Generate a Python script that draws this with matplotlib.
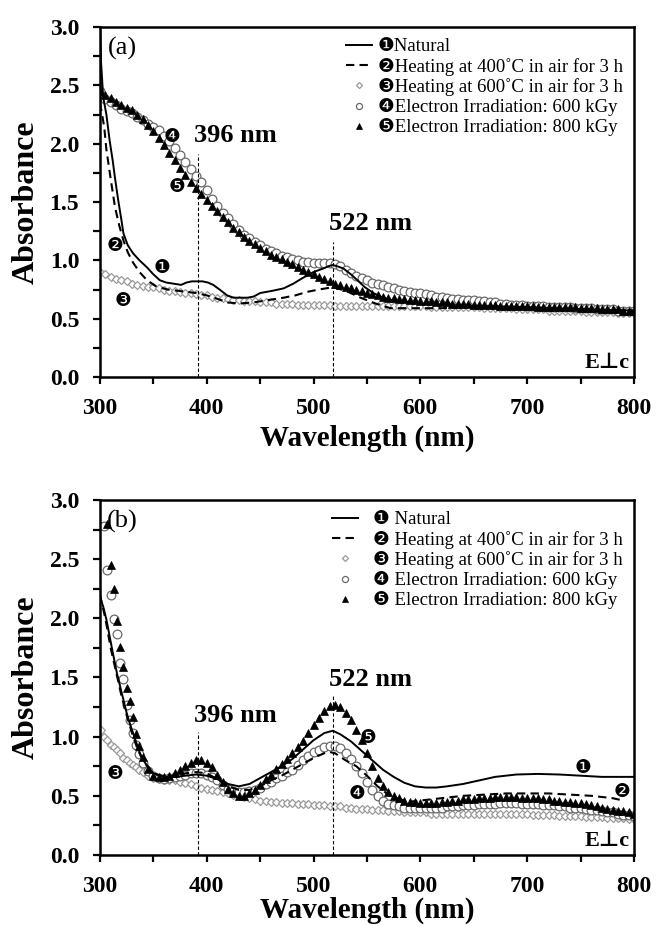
import matplotlib.pyplot as plt
from matplotlib.ticker import MultipleLocator

plt.rcParams['font.family'] = ['Liberation Serif', 'DejaVu Sans']

# ---------------- data ----------------
labels_a = ['❶Natural', '❷Heating at 400˚C in air for 3 h', '❸Heating at 600˚C in air for 3 h',
            '❹Electron Irradiation: 600 kGy', '❺Electron Irradiation: 800 kGy']
labels_b = ['❶ Natural', '❷ Heating at 400˚C in air for 3 h', '❸ Heating at 600˚C in air for 3 h',
            '❹ Electron Irradiation: 600 kGy', '❺ Electron Irradiation: 800 kGy']

# panel (a)
a1_x = [300, 301, 303, 306, 309, 312, 314, 317, 320, 322, 326, 331, 337, 344, 350, 356, 362, 369,
        376, 381, 386, 391, 396, 401, 406, 412, 419, 425, 431, 438, 444, 450, 456, 462, 472, 481,
        490, 500, 509, 514, 518, 522, 528, 535, 541, 548, 556, 565, 573, 581, 590, 600, 620, 650,
        700, 750, 800]
a1_y = [3.05, 2.70, 2.40, 2.25, 2.03, 1.85, 1.71, 1.52, 1.35, 1.23, 1.13, 1.06, 1.00, 0.94, 0.88,
        0.83, 0.81, 0.80, 0.79, 0.81, 0.82, 0.82, 0.82, 0.81, 0.79, 0.75, 0.70, 0.68, 0.68, 0.68,
        0.69, 0.72, 0.73, 0.74, 0.76, 0.80, 0.85, 0.90, 0.93, 0.95, 0.96, 0.95, 0.93, 0.88, 0.83,
        0.77, 0.72, 0.68, 0.66, 0.65, 0.64, 0.63, 0.62, 0.61, 0.60, 0.58, 0.57]

a2_x = [300, 302, 304, 306, 310, 314, 318, 322, 326, 331, 337, 344, 352, 363, 372, 381, 390, 400,
        410, 419, 430, 444, 458, 472, 483, 494, 505, 518, 530, 544, 558, 572, 590, 619, 647, 700,
        750, 800]
a2_y = [2.35, 2.25, 2.14, 1.95, 1.70, 1.46, 1.30, 1.17, 1.07, 0.98, 0.90, 0.83, 0.78, 0.75, 0.74,
        0.73, 0.72, 0.70, 0.67, 0.64, 0.63, 0.64, 0.66, 0.68, 0.70, 0.73, 0.75, 0.77, 0.74, 0.68,
        0.63, 0.59, 0.59, 0.59, 0.60, 0.59, 0.58, 0.57]

wl_a = list(range(300, 805, 5))
a3_y = [0.90, 0.88, 0.86, 0.84, 0.83, 0.82, 0.80, 0.79, 0.78, 0.77,   # 300
        0.77, 0.76, 0.75, 0.74, 0.74, 0.73, 0.72, 0.72, 0.71, 0.70,   # 350
        0.70, 0.69, 0.68, 0.68, 0.67, 0.66, 0.66, 0.65, 0.65, 0.65,   # 400
        0.64, 0.64, 0.64, 0.63, 0.63, 0.63, 0.63, 0.62, 0.62, 0.62,   # 450
        0.62, 0.62, 0.62, 0.62, 0.61, 0.61, 0.61, 0.61, 0.61, 0.61,   # 500
        0.61, 0.61, 0.61, 0.61, 0.61, 0.61, 0.61, 0.61, 0.61, 0.61,   # 550
        0.61, 0.61, 0.60, 0.60, 0.60, 0.60, 0.60, 0.60, 0.60, 0.60,   # 600
        0.60, 0.60, 0.59, 0.59, 0.59, 0.59, 0.59, 0.59, 0.58, 0.58,   # 650
        0.58, 0.58, 0.58, 0.58, 0.57, 0.57, 0.57, 0.57, 0.57, 0.57,   # 700
        0.57, 0.56, 0.56, 0.56, 0.56, 0.56, 0.56, 0.55, 0.55, 0.55,   # 750
        0.55]
a4_y = [2.45, 2.38, 2.36, 2.33, 2.30, 2.28, 2.26, 2.23, 2.20, 2.17,
        2.14, 2.12, 2.07, 2.02, 1.96, 1.90, 1.84, 1.78, 1.72, 1.67,
        1.60, 1.53, 1.47, 1.41, 1.36, 1.31, 1.26, 1.22, 1.19, 1.16,
        1.13, 1.10, 1.08, 1.06, 1.04, 1.03, 1.01, 1.00, 0.99, 0.99,
        0.98, 0.98, 0.98, 0.98, 0.97, 0.95, 0.92, 0.89, 0.87, 0.85,
        0.83, 0.81, 0.80, 0.79, 0.77, 0.76, 0.75, 0.74, 0.73, 0.72,
        0.72, 0.71, 0.70, 0.69, 0.69, 0.68, 0.67, 0.67, 0.66, 0.66,
        0.66, 0.65, 0.65, 0.64, 0.64, 0.63, 0.63, 0.62, 0.62, 0.62,
        0.61, 0.61, 0.61, 0.61, 0.60, 0.60, 0.60, 0.60, 0.60, 0.59,
        0.59, 0.59, 0.59, 0.58, 0.58, 0.58, 0.58, 0.57, 0.57, 0.57,
        0.57]
a5_y = [2.45, 2.42, 2.39, 2.36, 2.33, 2.31, 2.29, 2.25, 2.21, 2.16,
        2.11, 2.05, 1.99, 1.92, 1.86, 1.79, 1.73, 1.67, 1.62, 1.57,
        1.52, 1.47, 1.42, 1.37, 1.33, 1.28, 1.24, 1.20, 1.17, 1.14,
        1.11, 1.08, 1.05, 1.03, 1.01, 0.99, 0.97, 0.94, 0.92, 0.90,
        0.88, 0.86, 0.84, 0.82, 0.80, 0.79, 0.77, 0.76, 0.75, 0.74,
        0.72, 0.71, 0.70, 0.69, 0.68, 0.68, 0.67, 0.67, 0.66, 0.66,
        0.65, 0.65, 0.65, 0.64, 0.64, 0.64, 0.63, 0.63, 0.63, 0.63,
        0.62, 0.62, 0.62, 0.62, 0.62, 0.61, 0.61, 0.61, 0.61, 0.61,
        0.61, 0.61, 0.60, 0.60, 0.60, 0.60, 0.60, 0.60, 0.60, 0.60,
        0.59, 0.59, 0.59, 0.59, 0.58, 0.58, 0.58, 0.58, 0.57, 0.57,
        0.57]

# panel (b)
b1_x = [300, 303, 306, 309, 312, 316, 319, 322, 325, 328, 331, 334, 337, 340, 345, 350, 360, 370,
        380, 390, 400, 410, 420, 430, 440, 450, 460, 470, 480, 490, 500, 510, 518, 525, 535, 545,
        555, 565, 575, 585, 595, 605, 615, 625, 640, 655, 670, 690, 710, 730, 750, 770, 790, 800]
b1_y = [2.18, 2.10, 1.99, 1.85, 1.71, 1.53, 1.42, 1.31, 1.20, 1.11, 1.03, 0.95, 0.87, 0.81, 0.74,
        0.69, 0.66, 0.66, 0.67, 0.68, 0.67, 0.64, 0.60, 0.58, 0.60, 0.65, 0.70, 0.75, 0.81, 0.89,
        0.97, 1.03, 1.05, 1.02, 0.96, 0.88, 0.80, 0.72, 0.66, 0.61, 0.58, 0.57, 0.57, 0.58, 0.60,
        0.63, 0.66, 0.68, 0.685, 0.68, 0.67, 0.66, 0.66, 0.66]

b2_x = [300, 305, 310, 315, 320, 325, 330, 335, 340, 350, 360, 370, 380, 390, 400, 410, 420, 430,
        440, 450, 460, 470, 480, 490, 500, 510, 515, 520, 530, 540, 550, 560, 570, 580, 590, 600,
        620, 640, 660, 680, 700, 720, 740, 760, 780, 790]
b2_y = [2.20, 2.00, 1.75, 1.55, 1.35, 1.18, 1.03, 0.90, 0.80, 0.69, 0.66, 0.67, 0.69, 0.70, 0.69,
        0.64, 0.58, 0.55, 0.55, 0.58, 0.63, 0.67, 0.72, 0.77, 0.82, 0.86, 0.87, 0.86, 0.80, 0.75,
        0.67, 0.58, 0.51, 0.47, 0.45, 0.46, 0.48, 0.50, 0.51, 0.52, 0.52, 0.52, 0.51, 0.50, 0.48,
        0.46]

wl_b = [301, 304, 307, 310, 313, 316, 319, 322, 325, 328, 331, 334, 337, 340] + list(range(345, 805, 5))
b3_y = [1.06, 1.00, 0.97, 0.93, 0.91, 0.89, 0.86, 0.82, 0.80, 0.78, 0.76, 0.74, 0.72, 0.70,
        0.67, 0.65, 0.64, 0.63, 0.63, 0.63, 0.62, 0.61, 0.60, 0.58,   # 345
        0.57, 0.56, 0.55, 0.54, 0.53, 0.52, 0.51, 0.50, 0.49, 0.48,   # 395
        0.47, 0.46, 0.46, 0.45, 0.45, 0.44, 0.44, 0.44, 0.43, 0.43,   # 445
        0.43, 0.42, 0.42, 0.42, 0.41, 0.41, 0.41, 0.40, 0.40, 0.39,   # 495
        0.39, 0.39, 0.38, 0.38, 0.38, 0.37, 0.37, 0.37, 0.36, 0.36,   # 545
        0.36, 0.36, 0.36, 0.35, 0.35, 0.35, 0.35, 0.35, 0.35, 0.35,   # 595
        0.35, 0.35, 0.35, 0.35, 0.35, 0.35, 0.35, 0.35, 0.35, 0.35,   # 645
        0.35, 0.35, 0.34, 0.34, 0.34, 0.34, 0.34, 0.33, 0.33, 0.33,   # 695
        0.33, 0.33, 0.32, 0.32, 0.32, 0.32, 0.31, 0.31, 0.31, 0.31,   # 745
        0.30, 0.30]
b4_y = [3.10, 2.78, 2.41, 2.20, 1.99, 1.87, 1.62, 1.49, 1.27, 1.14, 1.03, 0.93, 0.85, 0.78,
        0.71, 0.67, 0.65, 0.64, 0.65, 0.66, 0.67, 0.68, 0.69, 0.69,
        0.69, 0.68, 0.66, 0.63, 0.59, 0.56, 0.54, 0.53, 0.53, 0.54,
        0.55, 0.57, 0.60, 0.62, 0.65, 0.67, 0.70, 0.72, 0.76, 0.80,
        0.84, 0.87, 0.89, 0.91, 0.92, 0.92, 0.90, 0.86, 0.81, 0.75,
        0.69, 0.62, 0.55, 0.50, 0.46, 0.43, 0.42, 0.41, 0.40, 0.40,
        0.40, 0.40, 0.40, 0.40, 0.40, 0.40, 0.41, 0.41, 0.41, 0.42,
        0.42, 0.42, 0.43, 0.43, 0.43, 0.43, 0.44, 0.44, 0.44, 0.44,
        0.43, 0.43, 0.43, 0.43, 0.42, 0.42, 0.42, 0.41, 0.41, 0.40,
        0.40, 0.40, 0.39, 0.38, 0.38, 0.37, 0.36, 0.36, 0.35, 0.34,
        0.34, 0.33]
b5_y = [3.40, 3.10, 2.80, 2.45, 2.25, 1.98, 1.76, 1.59, 1.41, 1.30, 1.17, 1.02, 0.92, 0.83,
        0.73, 0.67, 0.66, 0.66, 0.67, 0.69, 0.72, 0.75, 0.78, 0.80,
        0.80, 0.78, 0.74, 0.68, 0.62, 0.56, 0.52, 0.50, 0.50, 0.52,
        0.55, 0.59, 0.64, 0.68, 0.73, 0.77, 0.81, 0.86, 0.91, 0.96,
        1.03, 1.10, 1.16, 1.22, 1.26, 1.27, 1.25, 1.20, 1.14, 1.06,
        0.97, 0.86, 0.75, 0.65, 0.58, 0.53, 0.50, 0.48, 0.46, 0.45,
        0.45, 0.44, 0.44, 0.44, 0.44, 0.45, 0.45, 0.46, 0.46, 0.47,
        0.47, 0.47, 0.48, 0.48, 0.48, 0.49, 0.49, 0.49, 0.49, 0.49,
        0.48, 0.48, 0.48, 0.48, 0.47, 0.47, 0.46, 0.46, 0.45, 0.45,
        0.44, 0.44, 0.43, 0.42, 0.41, 0.40, 0.39, 0.38, 0.37, 0.37,
        0.36, 0.35]

peak_x = [392, 518]
peak_text = ['396 nm', '522 nm']
nums = ['❶', '❷', '❸', '❹', '❺']


def draw_panel(ax, s1, s2, wl, m3, m4, m5, labels, tag, peak_tops, peak_lbl_y, num_pos, num_gap):
    h3, = ax.plot(wl, m3, ls='none', marker='D', ms=4.4, mfc='white', mec='#9a9a9a', mew=0.9)
    h4, = ax.plot(wl, m4, ls='none', marker='o', ms=6.3, mfc='white', mec='#6a6a6a', mew=0.9)
    h5, = ax.plot(wl, m5, ls='none', marker='^', ms=5.6, mfc='black', mec='black', mew=0.5)
    h2, = ax.plot(s2[0], s2[1], color='black', lw=1.5, ls=(0, (4, 2.5)))
    h1, = ax.plot(s1[0], s1[1], color='black', lw=1.4)

    for px, top, ly, txt in zip(peak_x, peak_tops, peak_lbl_y, peak_text):
        ax.vlines(px, 0, top, colors='black', lw=0.8, linestyles=(0, (3, 2)))
        ax.text(px - 4, ly, txt, fontsize=19, fontweight='bold', ha='left', va='center')

    for n, (x, y) in zip(nums, num_pos):
        ax.text(x, y, n, fontsize=13.5, ha='center', va='center', family='DejaVu Sans')

    ax.text(321, 2.82, tag, fontsize=19, ha='center', va='center')
    ax.text(796, 0.12, 'E⊥c', fontsize=16, fontweight='bold', ha='right', va='center')

    ax.legend([h1, h2, h3, h4, h5], labels, loc='upper right', bbox_to_anchor=(1.0, 1.0),
              frameon=False, handlelength=1.4, handletextpad=num_gap, labelspacing=0.12,
              borderaxespad=0.2, numpoints=1, markerscale=0.7,
              prop={'family': ['Liberation Serif', 'DejaVu Sans'], 'size': 13.5})

    ax.set_xlim(300, 800)
    ax.set_ylim(0, 3.0)
    xt = [300, 400, 500, 600, 700, 800]
    yt = [0.0, 0.5, 1.0, 1.5, 2.0, 2.5, 3.0]
    ax.set_xticks(xt, [str(v) for v in xt], fontsize=17, fontweight='bold')
    ax.set_yticks(yt, ['%.1f' % v for v in yt], fontsize=17, fontweight='bold')
    ax.xaxis.set_minor_locator(MultipleLocator(50))
    ax.yaxis.set_minor_locator(MultipleLocator(0.25))
    ax.tick_params(which='both', direction='out', length=5, width=1.6, pad=10,
                   top=False, right=False)
    for sp in ax.spines.values():
        sp.set_linewidth(1.8)
    ax.set_ylabel('Absorbance', fontsize=23, fontweight='bold', labelpad=6)


fig = plt.figure(figsize=(6.56, 9.25), dpi=100)
ax_a = fig.add_axes([0.1524, 0.5924, 0.814, 0.3784])
ax_b = fig.add_axes([0.1524, 0.0757, 0.814, 0.3838])

draw_panel(ax_a, (a1_x, a1_y), (a2_x, a2_y), wl_a, a3_y, a4_y, a5_y, labels_a, '(a)',
           [1.91, 1.16], [2.07, 1.32],
           [(358, 0.94), (314, 1.13), (322, 0.66), (367.5, 2.06), (372, 1.63)], 0.3)
draw_panel(ax_b, (b1_x, b1_y), (b2_x, b2_y), wl_b, b3_y, b4_y, b5_y, labels_b, '(b)',
           [1.04, 1.34], [1.18, 1.48],
           [(752, 0.74), (789, 0.54), (314, 0.69), (541, 0.52), (551, 0.99)], 0.8)
ax_a.set_xlabel('Wavelength (nm)', fontsize=21, fontweight='bold', labelpad=4)
ax_b.set_xlabel('Wavelength (nm)', fontsize=21, fontweight='bold', labelpad=0)

fig.savefig('out.png', dpi=100)
